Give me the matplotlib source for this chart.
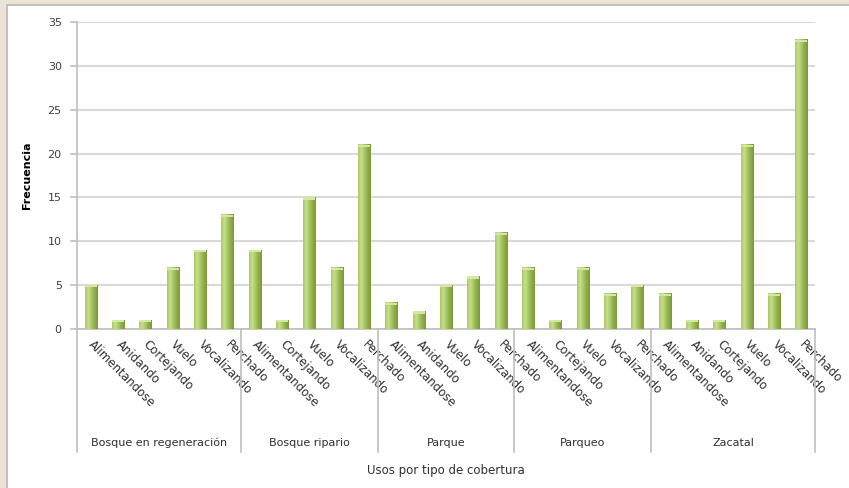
#Bar chart of bird behaviour frequency by land cover type
import matplotlib.pyplot as plt
import numpy as np
from matplotlib.colors import LinearSegmentedColormap

#data, one list per cover type
grupos = ["Bosque en regeneración", "Bosque ripario", "Parque", "Parqueo", "Zacatal"]
usos_bosque_reg = ["Alimentandose", "Anidando", "Cortejando", "Vuelo", "Vocalizando", "Perchado"]
frec_bosque_reg = [5, 1, 1, 7, 9, 13]
usos_ripario = ["Alimentandose", "Cortejando", "Vuelo", "Vocalizando", "Perchado"]
frec_ripario = [9, 1, 15, 7, 21]
usos_parque = ["Alimentandose", "Anidando", "Vuelo", "Vocalizando", "Perchado"]
frec_parque = [3, 2, 5, 6, 11]
usos_parqueo = ["Alimentandose", "Cortejando", "Vuelo", "Vocalizando", "Perchado"]
frec_parqueo = [7, 1, 7, 4, 5]
usos_zacatal = ["Alimentandose", "Anidando", "Cortejando", "Vuelo", "Vocalizando", "Perchado"]
frec_zacatal = [4, 1, 1, 21, 4, 33]

usos = [usos_bosque_reg, usos_ripario, usos_parque, usos_parqueo, usos_zacatal]
frecs = [frec_bosque_reg, frec_ripario, frec_parque, frec_parqueo, frec_zacatal]

#flatten everything into one category axis
labels = []
values = []
sizes = []
for u, f in zip(usos, frecs):
    labels += u
    values += f
    sizes.append(len(u))
x = np.arange(len(values))

fig = plt.figure(figsize=(8.49, 4.88), dpi=100)
fig.patch.set_facecolor("#e9e4d6")
#white panel
panel = plt.Rectangle((7 / 849, -0.05), 1, 1.05 - 5 / 488, transform=fig.transFigure,
                      facecolor="white", edgecolor="#b8b8b8", linewidth=1.2, zorder=-1)
fig.patches.append(panel)

ax = fig.add_axes([77 / 849, 1 - 329 / 488, (815 - 77) / 849, (329 - 22) / 488])
ax.set_zorder(1)
ax.set_facecolor("white")

width = 0.45
gradient = np.linspace(0, 1, 64).reshape(1, -1)
cmap = LinearSegmentedColormap.from_list("cyl", ["#a9c96a", "#c6df8c", "#a8c765", "#8dad48", "#7b9a3b"])
for xi, v in zip(x, values):
    ax.imshow(gradient, cmap=cmap, aspect="auto", zorder=3,
              extent=(xi - width / 2, xi + width / 2, 0, v))
    ax.add_patch(plt.Rectangle((xi - width / 2, v - 0.25), width, 0.25,
                               facecolor="#d3e8a0", edgecolor="none", zorder=4))

ax.set_xlim(-0.5, len(values) - 0.5)
ax.set_ylim(0, 35)
ax.set_yticks(range(0, 36, 5))
ax.yaxis.grid(True, color="#d9d9d9", linewidth=1.5)
ax.set_axisbelow(True)
for s in ["top", "right"]:
    ax.spines[s].set_visible(False)
ax.spines["left"].set_color("#bfbfbf")
ax.spines["bottom"].set_color("#bfbfbf")
ax.spines["left"].set_linewidth(1.2)
ax.spines["bottom"].set_linewidth(1.2)
ax.tick_params(axis="y", colors="#bfbfbf", length=5, width=1.2, labelsize=8, labelcolor="#404040", pad=6)
ax.tick_params(axis="x", length=0)
ax.set_xticks(x)
ax.set_xticklabels(labels, rotation=-45, rotation_mode="anchor", ha="left", va="center",
                   fontsize=8.5, color="#303030")
ax.tick_params(axis="x", pad=10)

#group separators and group names
trans = ax.get_xaxis_transform()
bounds = np.concatenate([[0], np.cumsum(sizes)]) - 0.5
for b in bounds:
    ax.plot([b, b], [0, -0.40], transform=trans, color="#bfbfbf", linewidth=1.2, clip_on=False)
for g, lo, hi in zip(grupos, bounds[:-1], bounds[1:]):
    ax.text((lo + hi) / 2, -0.371, g, transform=trans, ha="center", va="center",
            fontsize=8, color="#303030")

ax.text(0.5, -0.462, "Usos por tipo de cobertura", transform=ax.transAxes,
        ha="center", va="center", fontsize=8.5, color="#303030")
fig.text(27 / 849, 1 - 175 / 488, "Frecuencia", rotation=90, ha="center", va="center",
         fontsize=8, fontweight="bold", color="black")

fig.savefig("out.png", dpi=100, facecolor=fig.get_facecolor())
